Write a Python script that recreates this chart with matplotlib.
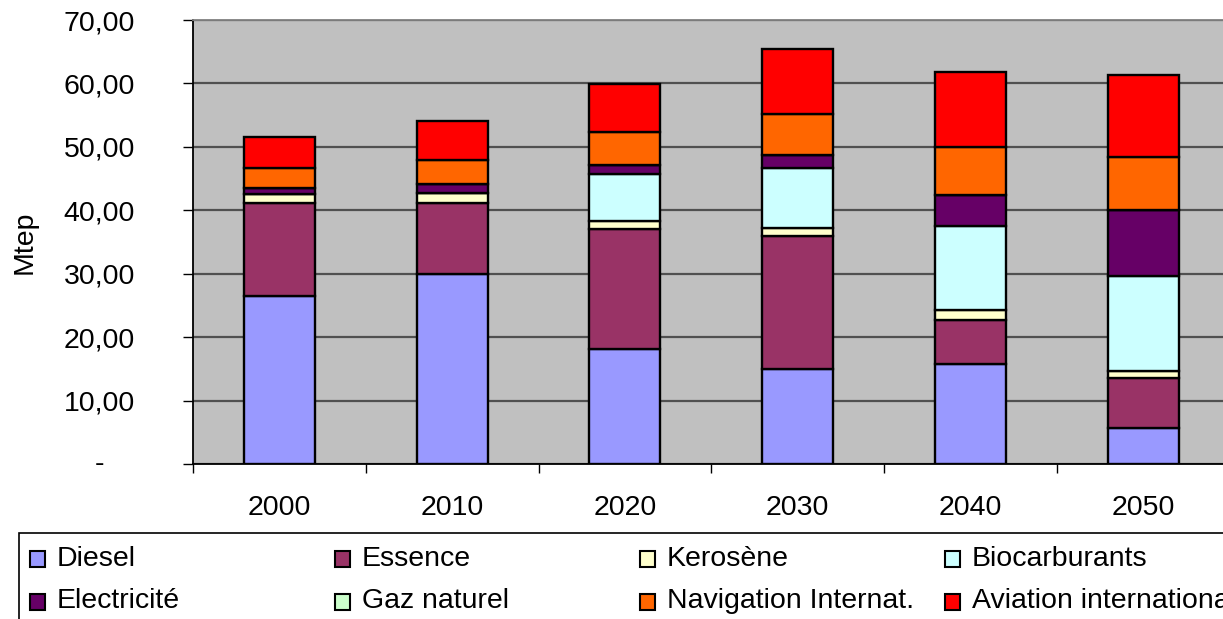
import matplotlib
matplotlib.use("Agg")
import matplotlib.pyplot as plt
from matplotlib.patches import Rectangle
import numpy as np

plt.rcParams['font.family'] = ['Liberation Sans', 'DejaVu Sans']

years = ["2000", "2010", "2020", "2030", "2040", "2050"]
series_names = ["Diesel", "Essence", "Kerosène", "Biocarburants",
                "Electricité", "Gaz naturel", "Navigation Internat.",
                "Aviation internationale"]
colors = ["#9999FF", "#993366", "#FFFFCC", "#CCFFFF",
          "#660066", "#CCFFCC", "#FF6600", "#FF0000"]

diesel = [26.5, 30.0, 18.1, 15.0, 15.8, 5.7]
essence = [14.7, 11.2, 19.0, 21.0, 6.95, 7.8]
kerosene = [1.4, 1.5, 1.2, 1.15, 1.5, 1.2]
biocarburants = [0.0, 0.0, 7.4, 9.5, 13.2, 15.0]
electricite = [0.9, 1.4, 1.4, 2.0, 5.0, 10.4]
gaz_naturel = [0.0, 0.0, 0.0, 0.0, 0.0, 0.0]
navigation = [3.2, 3.8, 5.3, 6.6, 7.5, 8.3]
aviation = [4.9, 6.1, 7.5, 10.1, 11.8, 13.0]

series = [diesel, essence, kerosene, biocarburants,
          electricite, gaz_naturel, navigation, aviation]

y_ticks = [0, 10, 20, 30, 40, 50, 60, 70]
y_labels = ["", "10,00", "20,00", "30,00", "40,00", "50,00", "60,00", "70,00"]

W, H = 1223, 619
fig = plt.figure(figsize=(W / 100, H / 100), dpi=100)
fig.patch.set_facecolor("white")

left, right, top, bottom = 193, 1229.5, 20, 464
ax = fig.add_axes([left / W, 1 - bottom / H, (right - left) / W, (bottom - top) / H])
ax.set_facecolor("#C0C0C0")

x = np.arange(len(years))
base = np.zeros(len(years))
for vals, col, name in zip(series, colors, series_names):
    v = np.array(vals)
    ax.bar(x, v, bottom=base, width=0.41, color=col, edgecolor="black",
           linewidth=1.7, label=name, zorder=3)
    base += v

ax.set_xlim(-0.5, len(years) - 0.5)
ax.set_ylim(0, 70)

ax.set_yticks(y_ticks)
ax.set_yticklabels(y_labels)
ax.tick_params(axis='y', direction='out', length=7.2, width=1.0, pad=34.5,
               labelsize=20.5, colors='black')

ax.set_xticks(np.arange(-0.5, len(years), 1.0))
ax.set_xticklabels([])
ax.tick_params(axis='x', which='major', direction='out', length=6.5, width=1.0)
ax.set_xticks(x, minor=True)
ax.set_xticklabels(years, minor=True)
ax.tick_params(axis='x', which='minor', length=0, pad=22, labelsize=20.5)

ax.yaxis.grid(True, color="#505050", linewidth=1.6, zorder=1)
ax.set_axisbelow(True)

for s in ['left', 'bottom']:
    ax.spines[s].set_color('black')
    ax.spines[s].set_linewidth(1.3)
ax.spines['top'].set_color('#808080')
ax.spines['top'].set_linewidth(1.3)
ax.spines['right'].set_visible(False)

# zero label as in the original (accounting dash)
fig.text(99 / W, 1 - 464 / H, "-", ha='center', va='center', fontsize=20.5)

fig.text(25 / W, 1 - 242 / H, "Mtep", rotation=90, ha='center', va='center',
         fontsize=20.5)

# legend box
fig.add_artist(Rectangle((19 / W, 1 - 660 / H), (1260 - 19) / W, (660 - 533) / H,
                         transform=fig.transFigure, facecolor='white',
                         edgecolor='black', linewidth=1.2, clip_on=False))
for i, (name, col) in enumerate(zip(series_names, colors)):
    r, c = divmod(i, 4)
    sx = 30 + 305 * c
    sy = 558.5 + 43 * r
    fig.add_artist(Rectangle((sx / W, 1 - (sy + 8) / H), 15 / W, 16 / H,
                             transform=fig.transFigure, facecolor=col,
                             edgecolor='black', linewidth=1.5))
    fig.text((sx + 27) / W, 1 - sy / H, name, ha='left', va='center',
             fontsize=20.5)

fig.savefig("out.png", dpi=100, facecolor="white")
